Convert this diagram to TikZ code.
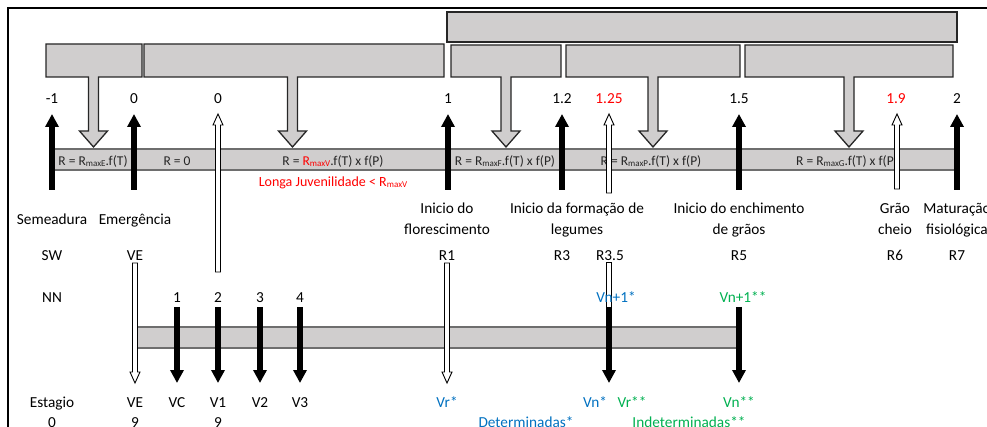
\documentclass[tikz,border=0pt]{standalone}
\usepackage{fontspec}
\setmainfont{Carlito}
\usetikzlibrary{arrows.meta,calc}
\definecolor{boxgray}{HTML}{D0CECE}
\definecolor{edgegray}{HTML}{6E6E6E}
\definecolor{detblue}{HTML}{0070C0}
\definecolor{indgreen}{HTML}{00B050}
\definecolor{hired}{HTML}{FF0000}
% small "max" index written after R
\newcommand\rsub[1]{\raisebox{-0.6pt}{\fontsize{9}{9}\selectfont #1}}
% gray box with a block arrow pointing down: left, right, top, bottom, stem x, tip y
\newcommand\callout[6]{%
  \draw[callbox] (#1,#3) -- (#2,#3) -- (#2,#4) -- ({#5+5},#4) -- ({#5+5},{#6-16})
    -- ({#5+14},{#6-16}) -- (#5,#6) -- ({#5-14},{#6-16}) -- ({#5-5},{#6-16})
    -- ({#5-5},#4) -- (#1,#4) -- cycle;}
% white outlined arrow from tail #1 to tip #2
\newcommand\hollowarrow[2]{%
  \draw[hollow] ($(#1)!2.5pt!90:(#2)$)
    -- ($(#2)!11pt!(#1)!2.5pt!-90:(#1)$)
    -- ($(#2)!11pt!(#1)!5pt!-90:(#1)$)
    -- (#2)
    -- ($(#2)!11pt!(#1)!5pt!90:(#1)$)
    -- ($(#2)!11pt!(#1)!2.5pt!90:(#1)$)
    -- ($(#1)!2.5pt!-90:(#2)$) -- cycle;}
\begin{document}
\begin{tikzpicture}[x=1pt,y=-1pt,
  solidarrow/.style={line width=5.5pt,-{Triangle[width=13pt,length=13pt]}},
  hollow/.style={draw=black,line width=0.9pt,fill=white,line join=miter},
  callbox/.style={draw=black!85,line width=1.3pt,fill=boxgray,line join=miter},
  band/.style={draw=edgegray,line width=1.3pt,fill=boxgray},
  lab/.style={inner sep=0pt,anchor=base,align=center,font=\fontsize{15.3}{20.5}\selectfont},
  bandtxt/.style={inner sep=0pt,anchor=base,font=\fontsize{13.5}{15}\selectfont,text=black!85}]
\useasboundingbox (0,0) rectangle (987,427);

% frame
\draw[line width=2.6pt] (8,432) -- (8,8) -- (992,8);

% upper boxes
\draw[callbox] (447,12) rectangle (957,42);
\callout{46}{142}{44}{77}{93.5}{147}
\callout{144}{444}{44}{77}{292.5}{147}
\callout{451}{561}{45}{77}{506}{147}
\callout{566}{740}{45}{77}{653}{147}
\callout{745}{953}{45}{77}{849}{147}

% scale values
\node[lab] (vm1) at (52,104) {-1};
\node[lab] (v0a) at (134,104) {0};
\node[lab] (v0b) at (218,104) {0};
\node[lab] (v1) at (448,104) {1};
\node[lab] (v12) at (562,104) {1.2};
\node[lab,text=hired] (v125) at (609,104) {1.25};
\node[lab] (v15) at (739,104) {1.5};
\node[lab,text=hired] (v19) at (896,104) {1.9};
\node[lab] (v2) at (957,104) {2};

% rate band
\draw[band] (52,149) rectangle (957,170);
\node[bandtxt] (rE) at (93,166) {R = R\rsub{maxE}.f(T)};
\node[bandtxt] (r0) at (177,166) {R = 0};
\node[bandtxt] (rV) at (333,166) {R = \textcolor{hired}{R\rsub{maxV}}.f(T) x f(P)};
\node[bandtxt,text=hired,font=\fontsize{14}{15}\selectfont] (juv) at (333,187) {Longa Juvenilidade < R\rsub{maxV}};
\node[bandtxt] (rF) at (505,166) {R = R\rsub{maxF}.f(T) x f(P)};
\node[bandtxt] (rP) at (651,166) {R = R\rsub{maxP}.f(T) x f(P)};
\node[bandtxt] (rG) at (847,166) {R = R\rsub{maxG}.f(T) x f(P)};

% solid arrows up to the scale values
\foreach \n/\x in {sem/52,eme/134,flo/448,leg/562,enc/739,mat/957}{
  \coordinate (\n-foot) at (\x,190);
  \coordinate (\n-tip) at (\x,114);
  \draw[solidarrow] (\n-foot) -- (\n-tip);
}
% hollow arrows up
\coordinate (juv-foot) at (218,272);
\coordinate (juv-tip) at (218,114);
\hollowarrow{juv-foot}{juv-tip}
\coordinate (r35-foot) at (609,193);
\coordinate (r35-tip) at (609,114);
\hollowarrow{r35-foot}{r35-tip}
\coordinate (r6-foot) at (897,189);
\coordinate (r6-tip) at (897,114);
\hollowarrow{r6-foot}{r6-tip}

% stage names (two-line labels sit on the baseline of their last line)
\node[lab] (semeadura) at (52,224.5) {Semeadura};
\node[lab] (emergencia) at (135,224.5) {Emergência};
\node[lab] (florescimento) at (447,234.5) {Inicio do\\florescimento};
\node[lab] (legumes) at (577,234.5) {Inicio da formação de\\legumes};
\node[lab] (enchimento) at (739,234.5) {Inicio do enchimento\\de grãos};
\node[lab] (cheio) at (895,234.5) {Grão\\cheio};
\node[lab] (maturacao) at (957,234.5) {Maturação\\fisiológica};

% SW row
\node[lab] (sw) at (52,261) {SW};
\node[lab] (swVE) at (135,261) {VE};
\node[lab] (swR1) at (447,261) {R1};
\node[lab] (swR3) at (562,261) {R3};
\node[lab] (swR35) at (610,261) {R3.5};
\node[lab] (swR5) at (739,261) {R5};
\node[lab] (swR6) at (895,261) {R6};
\node[lab] (swR7) at (957,261) {R7};

% NN row
\node[lab] (nn) at (52,302.5) {NN};
\node[lab] (nn1) at (177,302.5) {1};
\node[lab] (nn2) at (218,302.5) {2};
\node[lab] (nn3) at (260,302.5) {3};
\node[lab] (nn4) at (300,302.5) {4};

% node band
\draw[band] (133,327) rectangle (737,348);

% hollow arrows down
\coordinate (ve-top) at (135,263);
\coordinate (ve-tip) at (135,383);
\hollowarrow{ve-top}{ve-tip}
\coordinate (r1-top) at (447,263);
\coordinate (r1-tip) at (447,383);
\hollowarrow{r1-top}{r1-tip}
\coordinate (r35s-top) at (606.5,262);
\coordinate (r35s-bot) at (611.5,307);
\draw[hollow] (r35s-top) rectangle (r35s-bot);

% solid arrows down
\foreach \n/\x in {vc/177,v1/218,v2/260,v3/300,vn/609,vnn/739}{
  \coordinate (\n-top) at (\x,307);
  \coordinate (\n-tip) at (\x,383);
  \draw[solidarrow] (\n-top) -- (\n-tip);
}

\node[lab,text=detblue] (vn1a) at (616,302.5) {Vn+1*};
\node[lab,text=indgreen] (vn1b) at (743,302.5) {Vn+1**};

% stage row
\node[lab] (estagio) at (52,407) {Estagio};
\node[lab] (eVE) at (135,407) {VE};
\node[lab] (eVC) at (177,407) {VC};
\node[lab] (eV1) at (218,407) {V1};
\node[lab] (eV2) at (260,407) {V2};
\node[lab] (eV3) at (300,407) {V3};
\node[lab,text=detblue] (eVr) at (447,407) {Vr*};
\node[lab,text=detblue] (eVn) at (595,407) {Vn*};
\node[lab,text=indgreen] (eVrr) at (632,407) {Vr**};
\node[lab,text=indgreen] (eVnn) at (739,407) {Vn**};

\node[lab] (c0) at (52,427.5) {0};
\node[lab] (c9a) at (135,427.5) {9};
\node[lab] (c9b) at (218,427.5) {9};
\node[lab,text=detblue] (det) at (526,427.5) {Determinadas*};
\node[lab,text=indgreen] (indet) at (689,427.5) {Indeterminadas**};
\end{tikzpicture}
\end{document}
